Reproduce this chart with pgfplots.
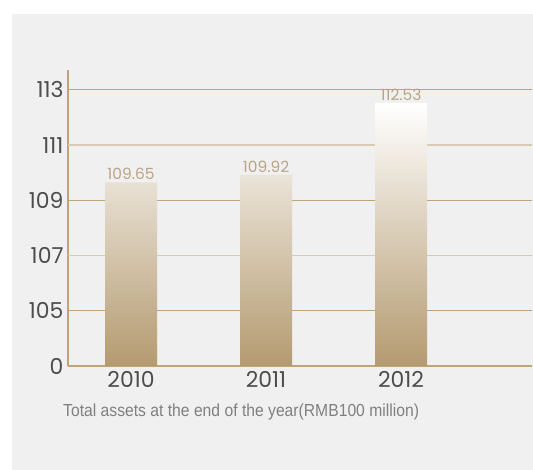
\documentclass[border=0pt]{standalone}
\usepackage{fontspec}
\setmainfont{Poppins}
\newfontfamily\condfont[FakeStretch=0.9]{Liberation Sans}
\usepackage{pgfplots}
\pgfplotsset{compat=1.18}
\definecolor{bgray}{HTML}{F0F0F0}
\definecolor{tanline}{HTML}{BFA37A}
\definecolor{tanlight}{HTML}{D9CAB3}
\definecolor{tandark}{HTML}{B49A70}
\definecolor{vallab}{HTML}{BBA484}
\definecolor{ticklab}{HTML}{4D4D4D}
\definecolor{caplab}{HTML}{808080}
\begin{document}
\begin{tikzpicture}[x=1bp,y=1bp]
\fill[white] (0,0) rectangle (533,470);
\fill[bgray] (12,0) rectangle (533,456);
\begin{axis}[
  at={(68bp,104bp)}, anchor=south west,
  scale only axis, width=464bp, height=296bp,
  xmin=-0.467, xmax=2.97, ymin=0, ymax=5.362,
  axis x line*=bottom, axis y line*=left,
  axis line style={draw=tanline, line width=1.1bp, -},
  xtick={0,1,2}, xticklabels={2010,2011,2012},
  ytick={0,1,3,5}, yticklabels={0,105,109,113},
  extra y ticks={2,4}, extra y tick labels={107,111},
  major tick length=0pt,
  ymajorgrids,
  major grid style={draw=tanline, line width=1bp},
  extra y tick style={grid=major, major grid style={draw=tanlight, line width=1.8bp}},
  tick label style={font=\fontsize{22}{25}\selectfont, text=ticklab},
  /pgf/number format/assume math mode=true,
  xticklabel style={yshift=-2bp},
  yticklabel style={xshift=-1bp},
  clip=false,
]
\addplot[ybar, bar width=52bp, draw=none, top color=white, bottom color=tandark,
  point meta=explicit symbolic,
  nodes near coords,
  nodes near coords style={font=\fontsize{15.5}{18}\selectfont, text=vallab, anchor=south, yshift=-1bp}]
  coordinates {(0,3.325) [109.65] (1,3.46) [109.92] (2,4.765) [112.53]};
\end{axis}
\node[anchor=west, text=caplab, font=\condfont\fontsize{17.5}{20}\selectfont, inner sep=0pt] at (63,58) {Total assets at the end of the year(RMB100 million)};
\pgfresetboundingbox
\useasboundingbox (0,0) rectangle (533,470);
\end{tikzpicture}
\end{document}
